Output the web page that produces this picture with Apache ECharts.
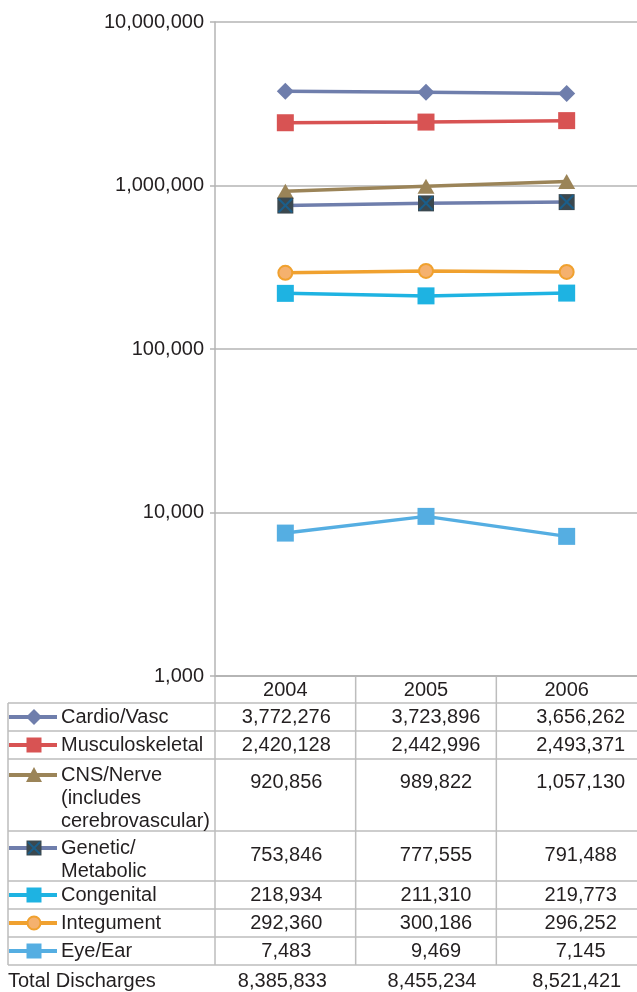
<!DOCTYPE html>
<html>
<head>
<meta charset="utf-8">
<script src="https://cdn.jsdelivr.net/npm/echarts@6/dist/echarts.min.js"></script>
<style>
html,body{margin:0;padding:0;background:#fff;}
#chart{width:637px;height:992px;}
</style>
</head>
<body>
<div id="chart"></div>
<script>
// ---- data ----
const categories = ['2004', '2005', '2006'];
const cardio = [3772276, 3723896, 3656262];
const musculo = [2420128, 2442996, 2493371];
const cns = [920856, 989822, 1057130];
const genetic = [753846, 777555, 791488];
const congenital = [218934, 211310, 219773];
const integument = [292360, 300186, 296252];
const eyeEar = [7483, 9469, 7145];
const totals = [8385833, 8455234, 8521421];
const seriesNames = ['Cardio/Vasc', 'Musculoskeletal', 'CNS/Nerve\n(includes\ncerebrovascular)', 'Genetic/\nMetabolic', 'Congenital', 'Integument', 'Eye/Ear'];
const totalLabel = 'Total Discharges';
const yTicks = [1000, 10000, 100000, 1000000, 10000000];

// ---- styling ----
const FONT = "'Liberation Sans', Arial, Helvetica, sans-serif";
const TXT = '#231F20';
const GRID_C = '#B4B4B4';
const TABLE_C = '#BDBDBD';
const seriesData = [cardio, musculo, cns, genetic, congenital, integument, eyeEar];
const styles = [
  {line: '#6F7EAC', fill: '#6F7EAC', symbol: 'diamond', size: 17, kind: 'diamond'},
  {line: '#D85353', fill: '#D85353', symbol: 'rect', size: 17, kind: 'rect'},
  {line: '#9B8458', fill: '#9B8458', symbol: 'triangle', size: [17, 15], kind: 'triangle'},
  {line: '#6F7EAC', fill: '#3B484F', symbol: 'rect', size: 16, kind: 'xrect'},
  {line: '#1EB3E2', fill: '#1EB3E2', symbol: 'rect', size: 17, kind: 'rect'},
  {line: '#F0A12F', fill: '#F5B16E', symbol: 'circle', size: 14, kind: 'circle', border: '#F0A12F'},
  {line: '#55AEE2', fill: '#55AEE2', symbol: 'rect', size: 17, kind: 'rect'}
];

const fmt = v => Number(v).toLocaleString('en-US');

const chart = echarts.init(document.getElementById('chart'), null, {renderer: 'canvas'});

const series = seriesData.map((d, i) => ({
  name: seriesNames[i],
  type: 'line',
  data: d,
  symbol: styles[i].symbol,
  symbolSize: styles[i].size,
  showAllSymbol: true,
  lineStyle: {color: styles[i].line, width: 3.5},
  itemStyle: {color: styles[i].fill, borderColor: styles[i].border || styles[i].fill, borderWidth: styles[i].border ? 2 : 0, opacity: 1},
  z: 2 + i,
  silent: true
}));
// X overlay on Genetic/Metabolic markers
series.push({
  name: 'genetic-x',
  type: 'line',
  data: genetic,
  symbol: 'path://M0,1 L1,0 L5,4 L9,0 L10,1 L6,5 L10,9 L9,10 L5,6 L1,10 L0,9 L4,5 Z',
  symbolSize: 15,
  lineStyle: {width: 0, opacity: 0},
  itemStyle: {color: '#1B5E8A'},
  z: 20,
  silent: true
});

const GRID = {left: 215, right: 0, top: 22, bottom: 316};

chart.setOption({
  animation: false,
  backgroundColor: '#fff',
  grid: GRID,
  xAxis: {
    type: 'category',
    data: categories,
    boundaryGap: true,
    axisLine: {show: true, lineStyle: {color: GRID_C, width: 1.5}},
    axisTick: {show: false},
    axisLabel: {color: TXT, fontFamily: FONT, fontSize: 20, margin: 4},
    splitLine: {show: false}
  },
  yAxis: {
    type: 'log',
    logBase: 10,
    min: yTicks[0],
    max: yTicks[yTicks.length - 1],
    axisLine: {show: true, lineStyle: {color: GRID_C, width: 1.5}},
    axisTick: {show: true, length: 5, lineStyle: {color: GRID_C, width: 1.5}},
    axisLabel: {color: TXT, fontFamily: FONT, fontSize: 20, margin: 11, formatter: v => fmt(Math.round(v))},
    splitLine: {show: true, lineStyle: {color: GRID_C, width: 1.5}}
  },
  series: series
});

// ---- data table under the plot ----
const rowLines = [703, 731, 759, 831, 881, 909, 937, 965];
const rowTextY = [717, 745, 782, 855, 895, 923, 951];
const labelFirstLineY = [717, 745, 775, 848, 895, 923, 951];
const totalY = 981;
const valueOffset = [1, 10, 14];
const tableLeft = 8, tableRight = 637, tableTop = 676, tableBottom = 965;
const iconX0 = 9, iconX1 = 57, iconCx = 34, labelX = 61;

const centers = categories.map(c => chart.convertToPixel({xAxisIndex: 0}, c));
const half = (centers[1] - centers[0]) / 2;
const colBounds = [centers[0] - half].concat(centers.map(c => c + half));

const g = [];
const lineStyle = {stroke: TABLE_C, lineWidth: 1.5};
rowLines.forEach(y => g.push({type: 'line', shape: {x1: tableLeft, y1: y, x2: tableRight, y2: y}, style: lineStyle, silent: true}));
g.push({type: 'line', shape: {x1: tableLeft, y1: rowLines[0], x2: tableLeft, y2: tableBottom}, style: lineStyle, silent: true});
colBounds.slice(0, 3).forEach(x => g.push({type: 'line', shape: {x1: x, y1: tableTop, x2: x, y2: tableBottom}, style: lineStyle, silent: true}));

const textStyle = (text, x, y, align) => ({
  type: 'text', x: x, y: y, silent: true,
  style: {text: text, fill: TXT, font: '20px ' + FONT, textAlign: align, textVerticalAlign: 'middle', lineHeight: 23}
});

seriesNames.forEach((name, i) => {
  const st = styles[i];
  const cy = labelFirstLineY[i];
  // icon line
  g.push({type: 'line', shape: {x1: iconX0, y1: cy, x2: iconX1, y2: cy}, style: {stroke: st.line, lineWidth: 4}, silent: true});
  const s = 8;
  if (st.kind === 'diamond') {
    g.push({type: 'polygon', shape: {points: [[iconCx, cy - s], [iconCx + s, cy], [iconCx, cy + s], [iconCx - s, cy]]}, style: {fill: st.fill}, silent: true});
  } else if (st.kind === 'triangle') {
    g.push({type: 'polygon', shape: {points: [[iconCx, cy - 8], [iconCx + 8, cy + 7], [iconCx - 8, cy + 7]]}, style: {fill: st.fill}, silent: true});
  } else if (st.kind === 'circle') {
    g.push({type: 'circle', shape: {cx: iconCx, cy: cy, r: 6.5}, style: {fill: st.fill, stroke: st.border, lineWidth: 2}, silent: true});
  } else {
    g.push({type: 'rect', shape: {x: iconCx - 7.5, y: cy - 7.5, width: 15, height: 15}, style: {fill: st.fill}, silent: true});
    if (st.kind === 'xrect') {
      g.push({type: 'line', shape: {x1: iconCx - 6, y1: cy - 6, x2: iconCx + 6, y2: cy + 6}, style: {stroke: '#1B5E8A', lineWidth: 2}, silent: true});
      g.push({type: 'line', shape: {x1: iconCx + 6, y1: cy - 6, x2: iconCx - 6, y2: cy + 6}, style: {stroke: '#1B5E8A', lineWidth: 2}, silent: true});
    }
  }
  // label (multi-line: anchor first line)
  const nLines = name.split('\n').length;
  const lbl = textStyle(name, labelX, cy + (nLines - 1) * 23 / 2, 'left');
  g.push(lbl);
  // values
  seriesData[i].forEach((v, j) => g.push(textStyle(fmt(v), centers[j] + valueOffset[j], rowTextY[i], 'center')));
});
g.push(textStyle(totalLabel, tableLeft, totalY, 'left'));
totals.forEach((v, j) => g.push(textStyle(fmt(v), centers[j] + valueOffset[j] - 4, totalY, 'center')));

chart.setOption({graphic: g});
</script>
</body>
</html>
